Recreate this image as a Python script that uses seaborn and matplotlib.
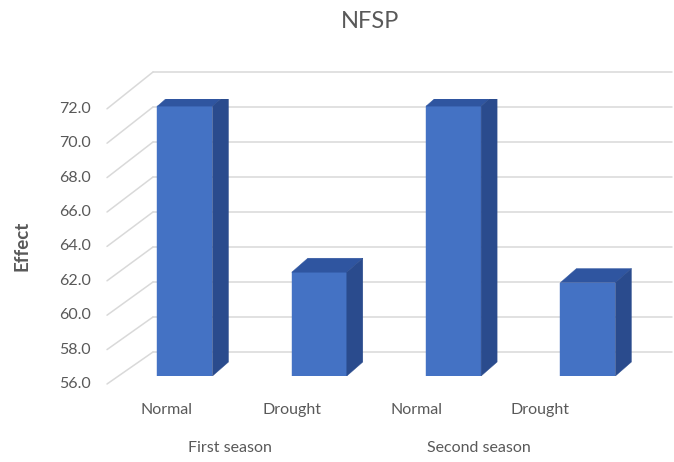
import numpy as np
import pandas as pd
import matplotlib
matplotlib.use("Agg")
import matplotlib.pyplot as plt
from matplotlib.patches import Polygon
from matplotlib.lines import Line2D
import seaborn as sns

# Data
conditions = ["Normal", "Drought", "Normal", "Drought"]
seasons = ["First season", "Second season"]
effect = [71.6, 62.0, 71.6, 61.4]
yticks = [56.0, 58.0, 60.0, 62.0, 64.0, 66.0, 68.0, 70.0, 72.0]

df = pd.DataFrame({"pos": [0, 1, 2, 3], "effect": effect})

sns.set_theme(style="white")
plt.rcParams["font.family"] = ["Lato", "DejaVu Sans"]

W, H = 674, 462
fig = plt.figure(figsize=(W / 100, H / 100), dpi=100)
fig.patch.set_facecolor("white")

# Axes = plane of the bar front faces (pixel geometry)
px_left, px_right = 104.4, 668.5
px_base, px_top = 376.0, 99.2
ax = fig.add_axes([px_left / W, (H - px_base) / H,
                   (px_right - px_left) / W, (px_base - px_top) / H])
ymin, ymax = 56.0, 72.0
xmin, xmax = -0.6, 3.6

ux = (px_right - px_left) / (xmax - xmin)   # px per category unit
uy = (px_base - px_top) / (ymax - ymin)     # px per value unit

def px2dx(p):
    return p / ux

def px2dy(p):
    return p / uy

def xpix(p):
    return xmin + px2dx(p - px_left)

grid_col = "#D9D9D9"
text_col = "#595959"

# Front faces via seaborn
bar_w = 55 / ux
sns.barplot(data=df, x="pos", y="effect", order=[0, 1, 2, 3], color="#4472C4",
            saturation=1, width=bar_w, ax=ax, zorder=3)
for p in ax.patches:
    p.set_edgecolor("#4472C4")
    p.set_linewidth(0.3)
ax.set_xlim(xmin, xmax)
ax.set_ylim(ymin, ymax)
ax.set_axis_off()

# Back wall gridlines, side wall lines and value labels
for v in yticks:
    yb = v + px2dy(24 + (v - ymin) * 0.2)   # back wall height
    yf = v - px2dy(8 + (v - ymin) * 0.1)    # front plane height
    ax.add_line(Line2D([xpix(153), xpix(672)], [yb, yb], color=grid_col,
                       lw=1.1, clip_on=False, zorder=0))
    ax.add_line(Line2D([xpix(107), xpix(153)], [yf, yb], color=grid_col,
                       lw=1.1, clip_on=False, zorder=0))
    ax.text(xpix(91), yf, f"{v:.1f}", ha="right", va="center",
            fontsize=11.5, color=text_col, clip_on=False)

# Depth faces (top and side) of each bar
ddx, ddy = px2dx(16), px2dy(14)
for i, v in enumerate(effect):
    x0, x1 = i - bar_w / 2, i + bar_w / 2
    top = Polygon([(x0, v), (x1, v), (x1 + ddx, v + ddy), (x0 + ddx, v + ddy)],
                  closed=True, facecolor="#2F55A0", edgecolor="#2F55A0",
                  lw=0.3, zorder=4)
    side = Polygon([(x1, ymin), (x1, v), (x1 + ddx, v + ddy), (x1 + ddx, ymin + ddy)],
                   closed=True, facecolor="#2A4B8D", edgecolor="#2A4B8D",
                   lw=0.3, zorder=4)
    ax.add_patch(top)
    ax.add_patch(side)

# Category labels (front plane)
label_px = [167, 292, 417, 540]
for lp, lab in zip(label_px, conditions):
    fig.text(lp / W, 1 - 410 / H, lab, ha="center", va="center",
             fontsize=11.5, color=text_col)
for sp, lab in zip([230, 479], seasons):
    fig.text(sp / W, 1 - 448 / H, lab, ha="center", va="center",
             fontsize=11.5, color=text_col)

fig.text(370 / W, 1 - 22 / H, "NFSP", ha="center", va="center",
         fontsize=17, color=text_col)
fig.text(22 / W, 1 - 246 / H, "Effect", ha="center", va="center",
         rotation=90, fontsize=13.5, fontweight="bold", color=text_col)

fig.savefig("out.png", dpi=100, facecolor="white")
